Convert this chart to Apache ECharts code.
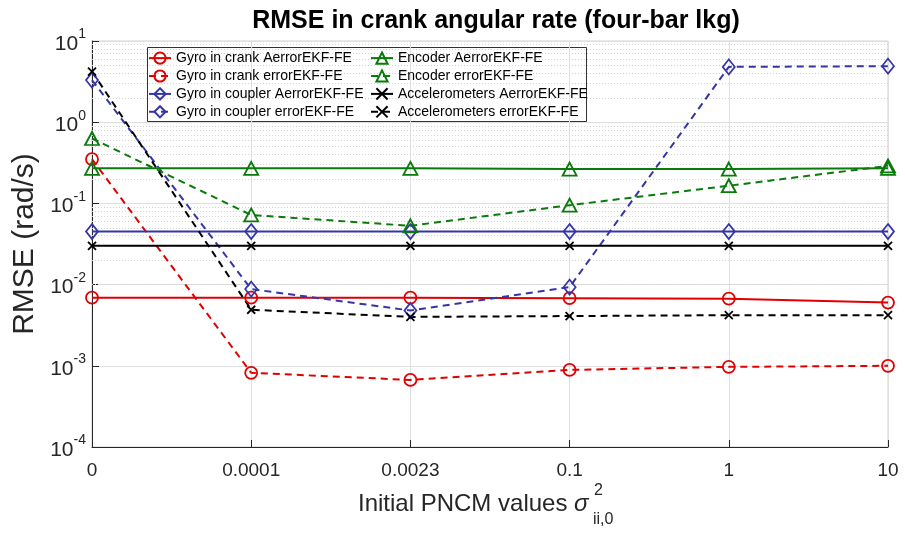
<!DOCTYPE html>
<html>
<head>
<meta charset="utf-8">
<title>RMSE in crank angular rate</title>
<script src="https://cdn.jsdelivr.net/npm/echarts@6/dist/echarts.min.js"></script>
<style>
  html, body { margin: 0; padding: 0; background: #fff; }
  #chart { width: 905px; height: 534px; }
</style>
</head>
<body>
<div id="chart"></div>
<script>
  // categories on the x axis (initial PNCM values)
  var xLabels = ['0', '0.0001', '0.0023', '0.1', '1', '10'];

  // RMSE values (rad/s)
  var gyroCrankA = [0.0069, 0.0069, 0.0069, 0.0068, 0.0067, 0.0060];
  var gyroCrankE = [0.35, 0.00082, 0.00067, 0.00089, 0.00097, 0.0010];
  var gyroCouplerA = [0.045, 0.045, 0.045, 0.045, 0.045, 0.045];
  var gyroCouplerE = [3.3, 0.0088, 0.0048, 0.0093, 4.8, 4.9];
  var encoderA = [0.27, 0.27, 0.27, 0.265, 0.265, 0.27];
  var encoderE = [0.63, 0.072, 0.053, 0.095, 0.165, 0.29];
  var accelA = [0.030, 0.030, 0.030, 0.030, 0.030, 0.030];
  var accelE = [4.2, 0.0049, 0.0040, 0.0041, 0.0042, 0.0042];

  var RED = '#e00000';
  var GREEN = '#0a7a0a';
  var BLUE = '#3535a8';
  var BLACK = '#000000';
  var FONT = '"Liberation Sans", Arial, Helvetica, sans-serif';
  var CROSS = 'path://M0,0L10,10M10,0L0,10';

  // dotted minor grid lines of the log axis
  var minorLines = [];
  for (var d = -4; d < 1; d++) {
    for (var k = 2; k <= 9; k++) {
      minorLines.push({ yAxis: k * Math.pow(10, d) });
    }
  }

  function makeSeries(name, data, color, symbol, size, dashed) {
    return {
      name: name,
      type: 'line',
      data: data,
      symbol: symbol,
      symbolSize: size,
      showAllSymbol: true,
      lineStyle: { color: color, width: 2, type: dashed ? [7, 5] : 'solid' },
      itemStyle: { color: 'none', borderColor: color, borderWidth: 1.8 },
      emphasis: { disabled: true },
      z: 3
    };
  }

  var series = [
    makeSeries('Gyro in crank AerrorEKF-FE', gyroCrankA, RED, 'circle', 12, false),
    makeSeries('Gyro in crank errorEKF-FE', gyroCrankE, RED, 'circle', 12, true),
    makeSeries('Gyro in coupler AerrorEKF-FE', gyroCouplerA, BLUE, 'diamond', [12, 15], false),
    makeSeries('Gyro in coupler errorEKF-FE', gyroCouplerE, BLUE, 'diamond', [12, 15], true),
    makeSeries('Encoder AerrorEKF-FE', encoderA, GREEN, 'triangle', [14, 13], false),
    makeSeries('Encoder errorEKF-FE', encoderE, GREEN, 'triangle', [14, 13], true),
    makeSeries('Accelerometers AerrorEKF-FE', accelA, BLACK, CROSS, 8, false),
    makeSeries('Accelerometers errorEKF-FE', accelE, BLACK, CROSS, 8, true)
  ];
  series[0].markLine = {
    silent: true,
    symbol: 'none',
    label: { show: false },
    lineStyle: { color: '#d2d2d2', width: 1, type: [1, 2] },
    data: minorLines,
    z: 1
  };

  var legendText = { color: '#000', fontSize: 14, fontFamily: FONT };

  var myChart = echarts.init(document.getElementById('chart'));
  myChart.setOption({
    animation: false,
    backgroundColor: '#fff',
    title: {
      text: 'RMSE in crank angular rate (four-bar lkg)',
      left: 491,
      top: 4,
      textAlign: 'center',
      textStyle: { fontSize: 25, fontWeight: 'bold', color: '#000', fontFamily: FONT }
    },
    grid: {
      left: 92, right: 17, top: 41, bottom: 87,
      show: true, borderColor: '#d0d0d0', borderWidth: 1
    },
    legend: [
      {
        data: series.slice(0, 4).map(function (s) { return s.name; }),
        orient: 'vertical',
        left: 148, top: 50,
        itemWidth: 22, itemHeight: 14, itemGap: 1.7,
        padding: 0,
        textStyle: legendText
      },
      {
        data: series.slice(4).map(function (s) { return s.name; }),
        orient: 'vertical',
        left: 370, top: 50,
        itemWidth: 22, itemHeight: 14, itemGap: 1.7,
        padding: 0,
        textStyle: legendText
      }
    ],
    xAxis: {
      type: 'category',
      data: xLabels,
      boundaryGap: false,
      axisLine: { lineStyle: { color: '#262626', width: 1 } },
      axisTick: { inside: true, length: 7, lineStyle: { color: '#262626' } },
      axisLabel: { color: '#262626', fontSize: 19, fontFamily: FONT, margin: 14 },
      splitLine: { show: true, lineStyle: { color: '#e0e0e0', width: 1 } }
    },
    yAxis: {
      type: 'log',
      logBase: 10,
      min: 0.0001,
      max: 10,
      name: 'RMSE (rad/s)',
      nameLocation: 'middle',
      nameGap: 45,
      nameTextStyle: { fontSize: 30, color: '#262626', fontFamily: FONT },
      axisLine: { show: true, lineStyle: { color: '#262626', width: 1 } },
      axisTick: { show: true, inside: true, length: 7, lineStyle: { color: '#262626' } },
      axisLabel: {
        margin: 6,
        formatter: function (v) {
          var e = Math.round(Math.log(v) / Math.LN10);
          return '{b|10}{s|' + e + '}';
        },
        rich: {
          b: { fontSize: 21, color: '#262626', fontFamily: FONT, verticalAlign: 'bottom' },
          s: { fontSize: 14, color: '#262626', fontFamily: FONT, verticalAlign: 'bottom', padding: [0, 0, 13, 0] }
        }
      },
      splitLine: { show: true, lineStyle: { color: '#e0e0e0', width: 1 } }
    },
    graphic: [
      {
        type: 'rect',
        left: 147, top: 47,
        shape: { width: 439, height: 74 },
        style: { fill: 'rgba(255,255,255,0)', stroke: '#333', lineWidth: 1 },
        z: 0
      },
      {
        type: 'text',
        x: 358, y: 504,
        style: {
          text: '{a|Initial PNCM values }{g|σ}',
          rich: {
            a: { fontSize: 24, fontFamily: FONT, fill: '#262626' },
            g: { fontSize: 24, fontFamily: FONT, fontStyle: 'italic', fill: '#262626' }
          },
          textAlign: 'left', textVerticalAlign: 'middle',
          align: 'left', verticalAlign: 'middle'
        }
      },
      {
        type: 'text',
        x: 594, y: 491,
        style: {
          text: '2', fontSize: 16, fontFamily: FONT, fill: '#262626',
          textAlign: 'left', textVerticalAlign: 'middle',
          align: 'left', verticalAlign: 'middle'
        }
      },
      {
        type: 'text',
        x: 593, y: 520,
        style: {
          text: 'ii,0', fontSize: 16, fontFamily: FONT, fill: '#262626',
          textAlign: 'left', textVerticalAlign: 'middle',
          align: 'left', verticalAlign: 'middle'
        }
      }
    ],
    series: series
  });
</script>
</body>
</html>
